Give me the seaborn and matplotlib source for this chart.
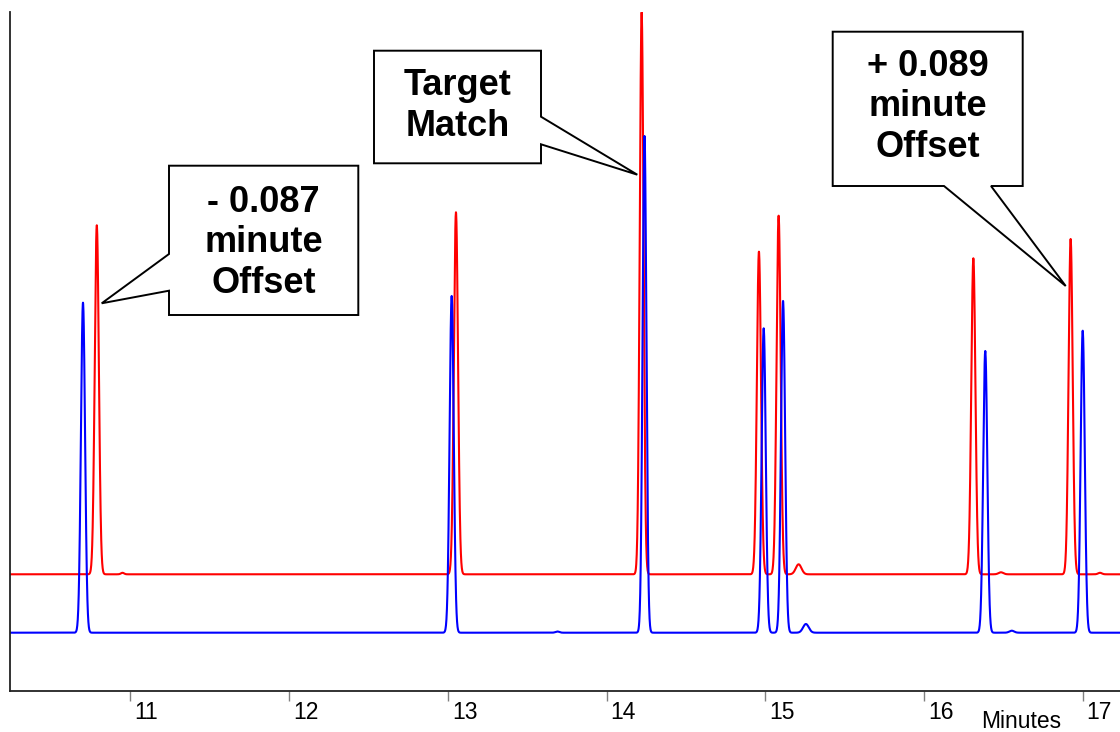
import numpy as np
import pandas as pd
import matplotlib
matplotlib.use("Agg")
import matplotlib.pyplot as plt
import seaborn as sns
from matplotlib.patches import Polygon
from matplotlib.transforms import ScaledTranslation

# ---------------- data ----------------
# peak tables: retention time (min), height above baseline (a.u.), sigma (min)
red_rt     = [10.788, 10.95, 13.051, 14.221, 14.960, 15.084, 15.210, 16.311, 16.485, 16.924, 17.109]
red_height = [349.0,  1.5,   362.0,  562.0,  322.6,  358.6,  10.0,   316.0,  2.0,    335.3,  1.5]
red_sigma  = [0.013,  0.010, 0.013,  0.012,  0.013,  0.013,  0.018,  0.013,  0.015,  0.013,  0.012]
red_base   = 116.7

blue_rt     = [10.701, 13.024, 13.690, 14.239, 14.990, 15.112, 15.256, 16.386, 16.553, 17.000]
blue_height = [330.0,  336.7,  1.2,    496.7,  304.4,  331.7,  8.7,    281.7,  2.0,    302.0]
blue_sigma  = [0.013,  0.013,  0.012,  0.012,  0.013,  0.013,  0.018,  0.013,  0.015,  0.013]
blue_base   = 58.3

x_ticks = [11, 12, 13, 14, 15, 16, 17]
x_tick_labels = ["11", "12", "13", "14", "15", "16", "17"]
x_label = "Minutes"

callout_texts = ["- 0.087\nminute\nOffset", "Target\nMatch", "+ 0.089\nminute\nOffset"]

# ---------------- build traces ----------------
t = np.arange(10.24, 17.24, 0.001)

def trace(base, rts, hs, ss):
    y = np.full_like(t, base)
    for c, h, s in zip(rts, hs, ss):
        y += h * np.exp(-0.5 * ((t - c) / s) ** 2)
    return y

df = pd.DataFrame({
    "time": np.concatenate([t, t]),
    "signal": np.concatenate([trace(red_base, red_rt, red_height, red_sigma),
                              trace(blue_base, blue_rt, blue_height, blue_sigma)]),
    "trace": ["red"] * len(t) + ["blue"] * len(t),
})

# ---------------- figure ----------------
sns.set_style("white")
plt.rcParams['font.family'] = ['Liberation Sans', 'DejaVu Sans']
plt.rcParams['text.color'] = 'black'
plt.rcParams['xtick.color'] = '#808080'
plt.rcParams['xtick.labelcolor'] = 'black'

W, H = 1120, 732
fig = plt.figure(figsize=(W / 100, H / 100), dpi=100)
ax = fig.add_axes([10.3 / W, (H - 691) / H, 1 - 10.3 / W, (691 - 12) / H])

sns.lineplot(data=df, x="time", y="signal", hue="trace",
             palette={"red": "#FF0000", "blue": "#0000FF"},
             estimator=None, sort=False, linewidth=1.5, legend=False, ax=ax)

ax.set_xlim(10.243, 17.235)
ax.set_ylim(0, 679)
ax.set_xlabel("")
ax.set_ylabel("")
ax.set_yticks([])
ax.set_xticks(x_ticks)
ax.set_xticklabels(x_tick_labels, ha="left")
ax.tick_params(axis="x", direction="out", length=7, width=1, color="#808080",
               labelcolor="black", labelsize=16.5, pad=0.5, bottom=True)
offset = ScaledTranslation(4 / 100, 0, fig.dpi_scale_trans)
for lab in ax.get_xticklabels():
    lab.set_transform(lab.get_transform() + offset)

for side in ["top", "right"]:
    ax.spines[side].set_visible(False)
for side in ["left", "bottom"]:
    ax.spines[side].set_color("#222222")
    ax.spines[side].set_linewidth(1.3)

fig.text(981 / W, (H - 728.5) / H, x_label, fontsize=16.5, ha="left",
         va="baseline", color="black")

# ---------------- callouts (pixel coordinates of the figure) ----------------
def fp(pts):
    return [(x / W, (H - y) / H) for x, y in pts]

callout_shapes = [
    [(169, 165.7), (358.3, 165.7), (358.3, 315), (169, 315), (169, 290.7),
     (101.7, 303.3), (169, 254)],
    [(374, 50.7), (541, 50.7), (541, 116.7), (637.3, 174.7), (541, 144.3),
     (541, 163.3), (374, 163.3)],
    [(832.7, 31.7), (1022.7, 31.7), (1022.7, 186), (991, 186), (1065.7, 286),
     (944, 186), (832.7, 186)],
]
text_centres = [(263.7, 243), (457.5, 106), (927.7, 107)]

for shape, txt, (cx, cy) in zip(callout_shapes, callout_texts, text_centres):
    poly = Polygon(fp(shape), closed=True, transform=fig.transFigure,
                   facecolor="white", edgecolor="black", linewidth=1.4,
                   zorder=5, joinstyle="miter")
    fig.patches.append(poly)
    fig.text(cx / W, (H - cy) / H, txt, fontsize=26, fontweight="bold",
             ha="center", va="center", linespacing=1.22, zorder=6,
             color="black")

fig.savefig("out.png", dpi=100)
